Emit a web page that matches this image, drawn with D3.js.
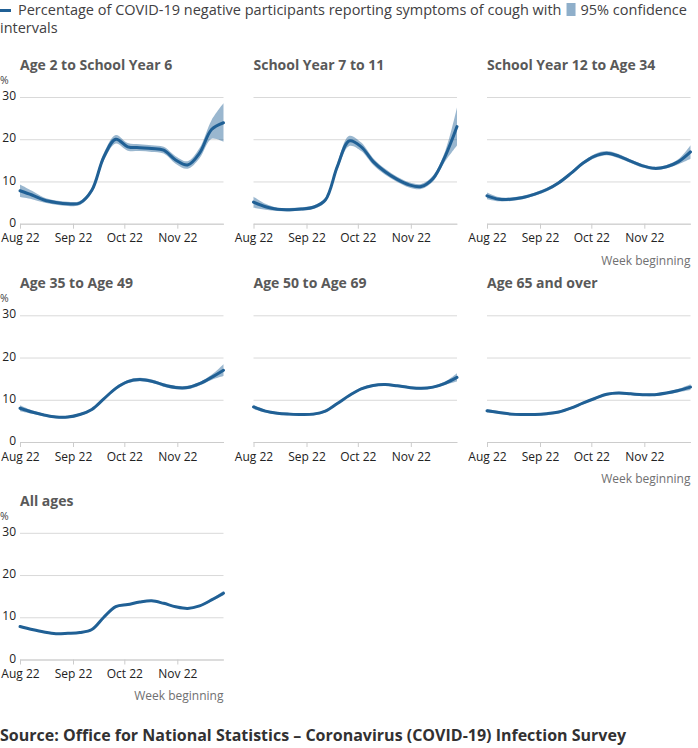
<!DOCTYPE html>
<html><head><meta charset="utf-8">
<script src="https://cdn.jsdelivr.net/npm/d3@7"></script>
<style>
body{margin:0;background:#fff;}
svg{display:block;font-family:"Open Sans",sans-serif;}
</style></head>
<body><svg id="c" width="698" height="748"></svg>
<script>
const weeks = ["2022-08-01","2022-08-08","2022-08-15","2022-08-22","2022-08-29","2022-09-05",
  "2022-09-12","2022-09-19","2022-09-26","2022-10-03","2022-10-10","2022-10-17",
  "2022-10-24","2022-10-31","2022-11-07","2022-11-14","2022-11-21","2022-11-28"];
const monthTicks = ["2022-08-01","2022-09-01","2022-10-01","2022-11-01"];
const yTicks = [0,10,20,30];
const titles = ["Age 2 to School Year 6","School Year 7 to 11","School Year 12 to Age 34",
  "Age 35 to Age 49","Age 50 to Age 69","Age 65 and over","All ages"];

const est1 = [7.8,6.8,5.6,5.0,4.7,4.9,7.9,15.8,20.0,18.2,18.0,17.8,17.4,15.1,13.9,16.7,22.3,23.9];
const lo1  = [6.3,5.8,5.0,4.5,4.2,4.4,7.3,14.9,19.0,17.3,17.2,17.0,16.6,14.2,13.0,15.5,20.1,19.4];
const hi1  = [9.3,7.8,6.2,5.5,5.2,5.4,8.5,16.7,21.0,19.1,18.8,18.6,18.2,16.0,14.8,17.9,24.5,28.5];

const est2 = [5.1,4.0,3.4,3.3,3.5,3.9,5.6,13.5,19.6,18.2,14.7,12.3,10.5,9.2,8.8,10.7,15.9,23.0];
const lo2  = [3.8,3.3,3.0,2.9,3.1,3.5,5.1,12.7,18.4,17.2,13.9,11.6,9.9,8.6,8.2,10.0,14.7,18.5];
const hi2  = [6.4,4.7,3.8,3.7,3.9,4.3,6.1,14.3,20.8,19.2,15.5,13.0,11.1,9.8,9.4,11.4,17.1,27.5];

const est3 = [6.6,5.8,5.8,6.2,7.0,8.1,9.7,11.9,14.3,16.0,16.7,16.0,14.8,13.7,13.1,13.5,14.7,17.0];
const lo3  = [5.8,5.3,5.4,5.8,6.6,7.7,9.3,11.5,13.9,15.5,16.2,15.5,14.4,13.3,12.7,13.1,14.1,15.4];
const hi3  = [7.4,6.3,6.2,6.6,7.4,8.5,10.1,12.3,14.7,16.5,17.2,16.5,15.2,14.1,13.5,13.9,15.3,18.6];

const est4 = [8.0,7.1,6.4,5.9,5.9,6.5,7.7,10.2,12.7,14.3,14.8,14.4,13.5,12.9,12.9,13.8,15.3,17.0];
const lo4  = [7.3,6.7,6.1,5.6,5.6,6.2,7.4,9.9,12.3,13.9,14.4,14.0,13.1,12.5,12.5,13.4,14.7,15.6];
const hi4  = [8.7,7.5,6.7,6.2,6.2,6.8,8.0,10.5,13.1,14.7,15.2,14.8,13.9,13.3,13.3,14.2,15.9,18.4];

const est5 = [8.3,7.3,6.8,6.6,6.5,6.6,7.3,9.1,11.0,12.6,13.4,13.6,13.3,12.9,12.7,13.0,13.9,15.3];
const lo5  = [7.8,7.0,6.5,6.3,6.2,6.3,7.0,8.8,10.7,12.3,13.1,13.3,13.0,12.6,12.4,12.7,13.5,14.3];
const hi5  = [8.8,7.6,7.1,6.9,6.8,6.9,7.6,9.4,11.3,12.9,13.7,13.9,13.6,13.2,13.0,13.3,14.3,16.3];

const est6 = [7.4,7.0,6.6,6.5,6.5,6.7,7.1,8.0,9.2,10.3,11.3,11.6,11.4,11.2,11.2,11.6,12.2,13.0];
const lo6  = [7.0,6.7,6.3,6.2,6.2,6.4,6.8,7.7,8.9,10.0,11.0,11.3,11.1,10.9,10.9,11.3,11.8,12.3];
const hi6  = [7.8,7.3,6.9,6.8,6.8,7.0,7.4,8.3,9.5,10.6,11.6,11.9,11.7,11.5,11.5,11.9,12.6,13.7];

const est7 = [7.8,7.1,6.5,6.1,6.2,6.4,7.1,10.0,12.5,13.0,13.6,13.9,13.3,12.5,12.1,12.7,14.1,15.7];
const lo7  = [7.5,6.9,6.3,5.9,6.0,6.2,6.9,9.8,12.3,12.8,13.4,13.7,13.1,12.3,11.9,12.5,13.8,15.2];
const hi7  = [8.1,7.3,6.7,6.3,6.4,6.6,7.3,10.2,12.7,13.2,13.8,14.1,13.5,12.7,12.3,12.9,14.4,16.2];

const series = [[est1,lo1,hi1],[est2,lo2,hi2],[est3,lo3,hi3],[est4,lo4,hi4],[est5,lo5,hi5],[est6,lo6,hi6],[est7,lo7,hi7]];

const parse = d3.timeParse("%Y-%m-%d");
const dates = weeks.map(parse);
const svg = d3.select("#c");
const BLUE = "#206095";

// legend
const lg = svg.append("g");
lg.append("rect").attr("x",0).attr("y",9).attr("width",11).attr("height",3).attr("fill",BLUE);
const lt = lg.append("text").attr("x",18).attr("y",15).attr("font-size",14.5).attr("fill","#414042");
lt.text("Percentage of COVID-19 negative participants reporting symptoms of cough with");
const lw = lt.node().getComputedTextLength();
lg.append("rect").attr("x",18+lw+5).attr("y",3).attr("width",9).attr("height",13).attr("fill",BLUE).attr("opacity",0.5);
lg.append("text").attr("x",18+lw+19).attr("y",15).attr("font-size",14.5).attr("fill","#414042").text("95% confidence");
lg.append("text").attr("x",0).attr("y",33).attr("font-size",14.5).attr("fill","#414042").text("intervals");

const colX = [20, 253.5, 487];
const rowY = [223.7, 442, 659.5];
const W = 203.5, H = 126.7;
const curve = d3.curveCatmullRom.alpha(0.5);

series.forEach((s, i) => {
  const col = i % 3, row = Math.floor(i / 3);
  const g = svg.append("g").attr("transform", `translate(${colX[col]},${rowY[row]-H})`);
  const x = d3.scaleTime().domain([dates[0], dates[dates.length-1]]).range([0, W]);
  const y = d3.scaleLinear().domain([0, 30]).range([H, 0]);

  // grid
  const ya = d3.axisLeft(y).tickValues(yTicks).tickSize(-W).tickPadding(4);
  const yg = g.append("g").call(ya);
  yg.select(".domain").remove();
  yg.selectAll(".tick line").attr("stroke","#d9d9d9");
  yg.selectAll(".tick text").attr("font-size",12).attr("fill","#222").attr("font-family","Open Sans").attr("dy","0.22em");
  if (col !== 0) yg.selectAll(".tick text").remove();

  const xa = d3.axisBottom(x).tickValues(monthTicks.map(parse)).tickFormat(d3.timeFormat("%b %y")).tickSize(5).tickSizeOuter(0).tickPadding(5);
  const xg = g.append("g").attr("transform",`translate(0,${H})`).call(xa);
  xg.select(".domain").attr("stroke","#cccccc");
  xg.selectAll(".tick line").attr("stroke","#cccccc");
  xg.selectAll(".tick text").attr("font-size",12).attr("fill","#222").attr("font-family","Open Sans");

  const band = d3.area().x((d,j)=>x(dates[j])).y0((d,j)=>y(s[1][j])).y1((d,j)=>y(s[2][j])).curve(curve);
  g.append("path").datum(s[0]).attr("d", band).attr("fill", BLUE).attr("opacity", 0.45);
  const line = d3.line().x((d,j)=>x(dates[j])).y(d=>y(d)).curve(curve);
  g.append("path").datum(s[0]).attr("d", line).attr("fill","none").attr("stroke",BLUE).attr("stroke-width",3).attr("stroke-linecap","round");

  g.append("text").attr("x",0).attr("y",-27).attr("font-size",14).attr("font-weight","bold").attr("fill","#595959").text(titles[i]);
  if (col === 0) g.append("text").attr("x",-20).attr("y",-13).attr("font-size",10.5).attr("fill","#414042").text("%");
  if (col === 2 || i === series.length-1)
    g.append("text").attr("x",W).attr("y",H+41).attr("text-anchor","end").attr("font-size",12).attr("fill","#707071").text("Week beginning");
});

svg.append("text").attr("x",0).attr("y",741).attr("font-size",16).attr("font-weight","bold").attr("fill","#323132")
  .text("Source: Office for National Statistics – Coronavirus (COVID-19) Infection Survey");
</script></body></html>
